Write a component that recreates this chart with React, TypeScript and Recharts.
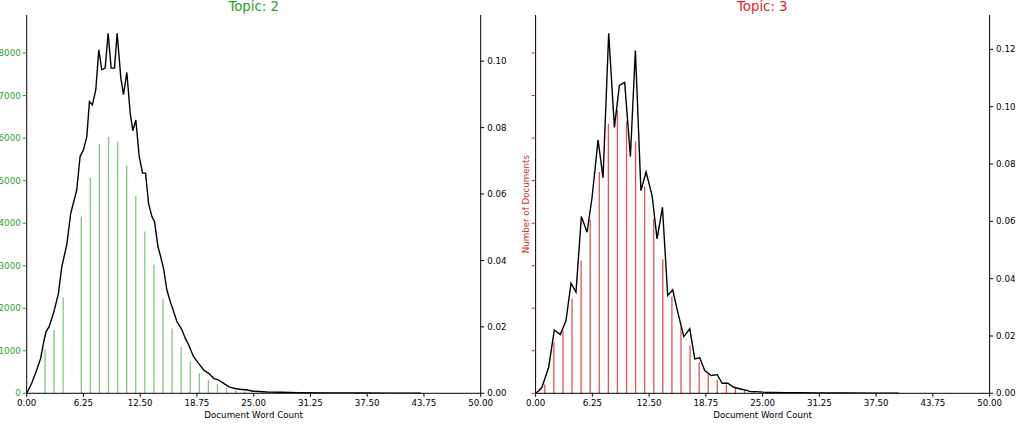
import React from 'react'
import { Bar, ComposedChart, Line, XAxis, YAxis } from 'recharts'

const xTicks = [0, 6.25, 12.5, 18.75, 25, 31.25, 37.5, 43.75, 50]
const countTicks = [0, 1000, 2000, 3000, 4000, 5000, 6000, 7000, 8000]
const topic2DensityTicks = [0, 0.02, 0.04, 0.06, 0.08, 0.1]
const topic3DensityTicks = [0, 0.02, 0.04, 0.06, 0.08, 0.1, 0.12]

// histogram: one thin bar per word count
const topic2BarX = [2, 3, 4, 6, 7, 8, 9, 10, 11, 12, 13, 14, 15, 16, 17, 18, 19, 20, 21, 22, 23, 24]
const topic2Counts = [1043, 1490, 2251, 4157, 5059, 5867, 6024, 5922, 5357, 4643, 3804, 3020, 2220, 1522, 1082, 745, 471, 314, 225, 137, 70, 42]

const topic3BarX = [1, 2, 3, 4, 5, 6, 7, 8, 9, 10, 11, 12, 13, 14, 15, 16, 17, 18, 19, 20, 21, 22, 23, 24]
const topic3Counts = [205, 1200, 1475, 2220, 3122, 4080, 5200, 6339, 6652, 6393, 5922, 4870, 4100, 3145, 2275, 1553, 1122, 730, 456, 315, 205, 127, 63, 40]

// density curve (right axis)
const topic2LineX = [
  0, 0.55, 1.1, 1.54, 1.84, 2.13, 2.46, 2.94, 3.49, 3.86, 4.41, 4.85, 5.51, 5.88, 6.25, 6.62, 6.91, 7.24,
  7.61, 7.94, 8.27, 8.64, 8.97, 9.3, 9.67, 9.96, 10.37, 10.66, 11.03, 11.4, 11.69, 12.02, 12.39, 12.76,
  13.09, 13.42, 13.79, 14.08, 14.45, 14.7, 15.07, 15.44, 15.81, 16.18, 16.54, 17.1, 17.46, 17.83, 18.38,
  18.93, 19.49, 20.04, 20.59, 21.14, 21.69, 22.24, 22.79, 23.5, 24.26, 25, 26.5, 28, 30, 33, 37, 40, 43.4,
]
const topic2Density = [
  0, 0.003, 0.007, 0.0105, 0.015, 0.0186, 0.02, 0.024, 0.03, 0.038, 0.0447, 0.0542, 0.0612, 0.0713, 0.0733,
  0.0773, 0.0878, 0.0868, 0.0914, 0.1034, 0.0974, 0.0979, 0.1084, 0.0979, 0.0979, 0.1084, 0.0949, 0.0899,
  0.0966, 0.0843, 0.0791, 0.0823, 0.0713, 0.0663, 0.0663, 0.0572, 0.0532, 0.0517, 0.0442, 0.0417, 0.0376,
  0.0311, 0.0276, 0.0246, 0.0216, 0.0191, 0.0166, 0.0146, 0.011, 0.009, 0.007, 0.006, 0.0045, 0.004, 0.003,
  0.002, 0.0015, 0.0012, 0.001, 0.0006, 0.0004, 0.0003, 0.0002, 0.0001, 0.00008, 0.00005, 0.00003,
]

const topic3LineX = [
  0, 0.33, 0.7, 1.44, 2.06, 2.72, 3.35, 3.9, 4.45, 5.04, 5.67, 6.22, 6.88, 7.43, 8.05, 8.68, 9.23, 9.81,
  10.44, 10.99, 11.6, 12.17, 12.83, 13.38, 13.97, 14.55, 15.1, 15.7, 16.32, 16.98, 17.53, 18.08, 18.63,
  19.34, 20.0, 20.55, 21.17, 21.83, 22.57, 23.23, 23.67, 24.3, 25, 26, 27.5, 29, 31, 34, 37, 40,
]
const topic3Density = [
  0, 0.0008, 0.0021, 0.0091, 0.0221, 0.0205, 0.0254, 0.0384, 0.0353, 0.0617, 0.0562, 0.0684, 0.0884,
  0.0752, 0.1256, 0.0928, 0.1074, 0.1085, 0.0826, 0.1196, 0.0707, 0.0772, 0.069, 0.0539, 0.0649, 0.0341,
  0.0361, 0.0277, 0.0198, 0.0225, 0.012, 0.0124, 0.0079, 0.0062, 0.0065, 0.0035, 0.0035, 0.0021, 0.0015,
  0.001, 0.0006, 0.0006, 0.0004, 0.0003, 0.0002, 0.0002, 0.0001, 0.0001, 0.00005, 0.00003,
]

const GREEN = '#2ca02c'
const RED = '#d62728'
const PLOT_W = 454
const FONT = 8.7

type BarRow = { x: number; count: number }
type LineRow = { x: number; density: number }

const toBars = (xs: number[], counts: number[]): BarRow[] => xs.map((x, i) => ({ x, count: counts[i] }))
const toLine = (xs: number[], ds: number[]): LineRow[] => xs.map((x, i) => ({ x, density: ds[i] }))

interface PanelProps {
  title: string
  color: string
  barOpacity: number
  bars: BarRow[]
  line: LineRow[]
  left: number
  leftWidth: number
  rightWidth: number
  densityMax: number
  densityTicks: number[]
  showCountLabels: boolean
  yLabel?: string
}

function TopicPanel(p: PanelProps) {
  const width = p.leftWidth + PLOT_W + p.rightWidth
  return (
    <div style={{ position: 'absolute', left: p.left, top: 0, width, height: 425 }}>
      <ComposedChart
        width={width}
        height={425}
        data={p.bars}
        margin={{ top: 15, right: 0, bottom: 0, left: 0 }}
      >
        <XAxis
          xAxisId="top"
          orientation="top"
          type="number"
          dataKey="x"
          domain={[0, 50]}
          height={0}
          tick={false}
          tickLine={false}
          stroke="#000"
        />
        {/* hidden axis for the histogram so its band size only sees integer counts */}
        <XAxis
          xAxisId="bars"
          orientation="top"
          type="number"
          dataKey="x"
          domain={[0, 50]}
          height={0}
          hide
        />
        <XAxis
          xAxisId="main"
          type="number"
          dataKey="x"
          domain={[0, 50]}
          ticks={xTicks}
          interval={0}
          height={31.7}
          stroke="#000"
          tickSize={3.5}
          tickMargin={3}
          tick={{ fill: '#000', fontSize: FONT }}
          tickFormatter={(v: number) => v.toFixed(2)}
          label={{ value: 'Document Word Count', position: 'insideBottom', offset: 7, fill: '#000', fontSize: FONT }}
        />
        <YAxis
          yAxisId="count"
          orientation="left"
          type="number"
          width={p.leftWidth}
          domain={[0, 8894]}
          ticks={countTicks}
          interval={0}
          allowDataOverflow
          stroke="#000"
          tickLine={{ stroke: p.color }}
          tickSize={4}
          tickMargin={2}
          tick={p.showCountLabels ? { fill: p.color, fontSize: FONT } : () => <g />}
          label={
            p.yLabel
              ? { value: p.yLabel, angle: -90, position: 'center', fill: p.color, fontSize: FONT }
              : undefined
          }
        />
        <YAxis
          yAxisId="density"
          orientation="right"
          type="number"
          width={p.rightWidth}
          domain={[0, p.densityMax]}
          ticks={p.densityTicks}
          interval={0}
          allowDataOverflow
          stroke="#000"
          tickSize={3.5}
          tickMargin={3}
          tick={{ fill: '#000', fontSize: FONT }}
          tickFormatter={(v: number) => v.toFixed(2)}
        />
        <Bar
          xAxisId="bars"
          yAxisId="count"
          dataKey="count"
          fill={p.color}
          fillOpacity={p.barOpacity}
          barSize={1.3}
          isAnimationActive={false}
        />
        <Line
          xAxisId="main"
          yAxisId="density"
          data={p.line}
          dataKey="density"
          type="linear"
          stroke="#000"
          strokeWidth={1.4}
          dot={false}
          activeDot={false}
          isAnimationActive={false}
        />
      </ComposedChart>
      <div
        style={{
          position: 'absolute',
          left: p.leftWidth,
          width: PLOT_W,
          top: 0,
          textAlign: 'center',
          fontSize: 13.3,
          lineHeight: 1,
          color: p.color,
        }}
      >
        {p.title}
      </div>
    </div>
  )
}

export default function App() {
  return (
    <div
      style={{
        position: 'absolute',
        left: 0,
        top: 0,
        width: 1024,
        height: 425,
        overflow: 'hidden',
        background: '#fff',
        fontFamily: "'DejaVu Sans', sans-serif",
      }}
    >
      <TopicPanel
        title="Topic: 2"
        color={GREEN}
        barOpacity={0.6}
        bars={toBars(topic2BarX, topic2Counts)}
        line={toLine(topic2LineX, topic2Density)}
        left={0}
        leftWidth={26.7}
        rightWidth={40}
        densityMax={0.1139}
        densityTicks={topic2DensityTicks}
        showCountLabels
      />
      <TopicPanel
        title="Topic: 3"
        color={RED}
        barOpacity={0.8}
        bars={toBars(topic3BarX, topic3Counts)}
        line={toLine(topic3LineX, topic3Density)}
        left={516.7}
        leftWidth={18.6}
        rightWidth={34.7}
        densityMax={0.132}
        densityTicks={topic3DensityTicks}
        showCountLabels={false}
        yLabel="Number of Documents"
      />
    </div>
  )
}
